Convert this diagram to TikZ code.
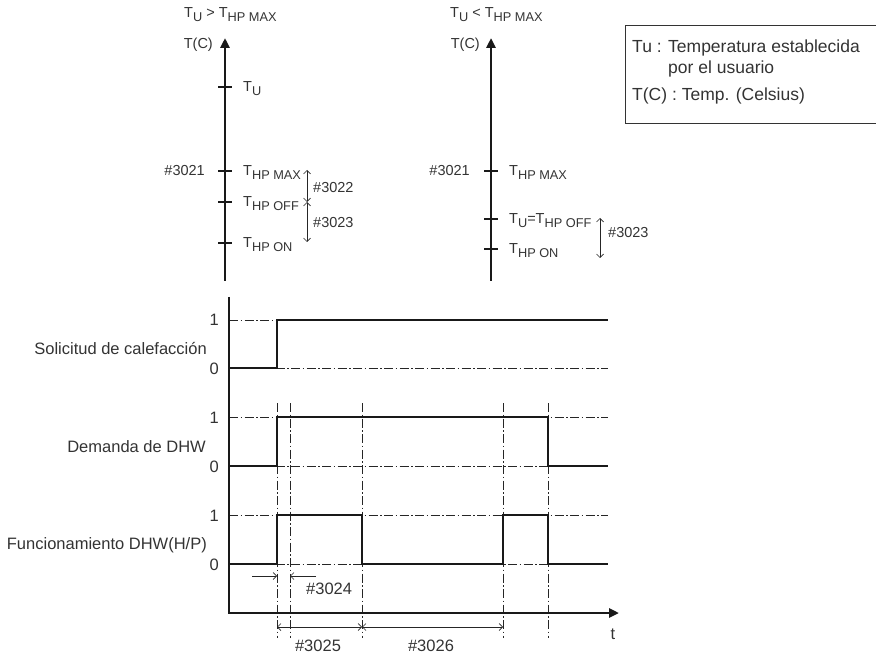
\documentclass[tikz,border=0pt]{standalone}
\usepackage{fontspec}
\setmainfont{Liberation Sans}
\usetikzlibrary{arrows.meta}
\newcommand\sbs[1]{\raisebox{-0.45ex}{\scalebox{0.88}{#1}}}
\begin{document}
\begin{tikzpicture}[x=1pt,y=-1pt,
  lbl/.style={font=\fontsize{16.5}{18}\selectfont, text=black!80, inner sep=0pt},
  leglbl/.style={font=\fontsize{17.5}{19}\selectfont, text=black!80, inner sep=0pt},
  tlbl/.style={font=\fontsize{14.5}{16}\selectfont, text=black!80, inner sep=0pt},
  axisline/.style={line width=2.6pt, draw=black!90},
  tickmark/.style={line width=2pt, draw=black!90},
  sig/.style={line width=2.5pt, draw=black!90, line join=miter},
  ddot/.style={line width=0.8pt, draw=black!85, dash pattern=on 9pt off 2.5pt on 1.5pt off 2.5pt},
  dimarrow/.style={line width=0.7pt, draw=black!85, {Straight Barb[length=3.5pt,width=7pt]}-{Straight Barb[length=3.5pt,width=7pt]}},
  onearrow/.style={line width=0.7pt, draw=black!85, -{Straight Barb[length=3.5pt,width=7pt]}},
  bigtip/.style={-{Triangle[length=10pt,width=9pt]}}
]
\useasboundingbox (0,0) rectangle (876,655);

% ---------- left temperature axis ----------
\coordinate (LA0) at (225,281);
\coordinate (LA1) at (225,38);
\draw[axisline,bigtip] (LA0) -- (LA1);
\node[tlbl,anchor=base west] (lhead) at (184,18) {T\sbs{U} > T\sbs{HP MAX}};
\node[tlbl,anchor=base east] (ltc) at (213,49) {T(C)};
\foreach \yy in {87,171,202,243} \draw[tickmark] (218,\yy) -- (232,\yy);
\node[tlbl,anchor=base west] (ltu) at (243,92) {T\sbs{U}};
\node[tlbl,anchor=base east] (l3021) at (205,176) {\#3021};
\node[tlbl,anchor=base west] (lmax) at (243,176) {T\sbs{HP MAX}};
\node[tlbl,anchor=base west] (loff) at (243,207) {T\sbs{HP OFF}};
\node[tlbl,anchor=base west] (lon) at (243,248) {T\sbs{HP ON}};
\coordinate (la) at (307,170);
\coordinate (lb) at (307,202);
\coordinate (lc) at (307,242);
\draw[dimarrow] (la) -- (lb);
\draw[dimarrow] (lb) -- (lc);
\node[tlbl,anchor=base west] (l3022) at (313,193) {\#3022};
\node[tlbl,anchor=base west] (l3023) at (313,228) {\#3023};

% ---------- right temperature axis ----------
\coordinate (RA0) at (491,281);
\coordinate (RA1) at (491,38);
\draw[axisline,bigtip] (RA0) -- (RA1);
\node[tlbl,anchor=base west] (rhead) at (450,18) {T\sbs{U} < T\sbs{HP MAX}};
\node[tlbl,anchor=base east] (rtc) at (480,49) {T(C)};
\foreach \yy in {171,219,249} \draw[tickmark] (484,\yy) -- (498,\yy);
\node[tlbl,anchor=base east] (r3021) at (470,176) {\#3021};
\node[tlbl,anchor=base west] (rmax) at (509,176) {T\sbs{HP MAX}};
\node[tlbl,anchor=base west] (roff) at (509,224) {T\sbs{U}=T\sbs{HP OFF}};
\node[tlbl,anchor=base west] (ron) at (509,254) {T\sbs{HP ON}};
\coordinate (ra) at (600,218);
\coordinate (rb) at (600,258);
\draw[dimarrow] (ra) -- (rb);
\node[tlbl,anchor=base west] (r3023) at (608,238) {\#3023};

% ---------- legend ----------
\draw[line width=0.8pt, draw=black!80] (876,25) -- (625,25) -- (625,123) -- (876,123);
\node[leglbl,anchor=base west] (leg1) at (632,53) {Tu : Temperatura establecida};
\node[leglbl,anchor=base west] (leg2) at (668,74) {por el usuario};
\node[leglbl,anchor=base west] (leg3) at (632,101) {T(C) : Temp. (Celsius)};

% ---------- timing chart ----------
\foreach \yy in {320,368,417,466,515,564} \draw[ddot] (229,\yy) -- (608,\yy);
\foreach \xx in {277,290,362,503,548} \draw[ddot] (\xx,403) -- (\xx,638);

\coordinate (AxTop) at (229,297);
\coordinate (AxOrg) at (229,613);
\coordinate (AxEnd) at (619,613);
\draw[axisline,bigtip,line join=miter] (AxTop) -- (AxOrg) -- (AxEnd);
\node[lbl,anchor=base] (tl) at (613,639) {t};

\draw[sig] (229,368) -- (277,368) -- (277,320) -- (608,320);
\draw[sig] (229,466) -- (277,466) -- (277,417) -- (548,417) -- (548,466) -- (608,466);
\draw[sig] (229,564) -- (277,564) -- (277,515) -- (362,515) -- (362,564) -- (503,564) -- (503,515) -- (548,515) -- (548,564) -- (608,564);

\foreach \yy/\v [count=\i] in {320/1,368/0,417/1,466/0,515/1,564/0}
  \node[lbl,anchor=base east] (lev\i) at (219,\yy+6) {\v};

\node[lbl,anchor=base east] (s1) at (207,354) {Solicitud de calefacción};
\node[lbl,anchor=base east] (s2) at (206,452) {Demanda de DHW};
\node[lbl,anchor=base east] (s3) at (207,549) {Funcionamiento DHW(H/P)};

\coordinate (a1) at (252,576);
\coordinate (a2) at (277,576);
\coordinate (a3) at (316,576);
\coordinate (a4) at (290,576);
\draw[onearrow] (a1) -- (a2);
\draw[onearrow] (a3) -- (a4);
\node[lbl,anchor=base west] (n3024) at (306,594) {\#3024};

\coordinate (d1) at (277,627);
\coordinate (d2) at (362,627);
\coordinate (d3) at (503,627);
\draw[dimarrow] (d1) -- (d2);
\draw[dimarrow] (d2) -- (d3);
\node[lbl,anchor=base] (n3025) at (318,651) {\#3025};
\node[lbl,anchor=base] (n3026) at (431,651) {\#3026};
\end{tikzpicture}
\end{document}
